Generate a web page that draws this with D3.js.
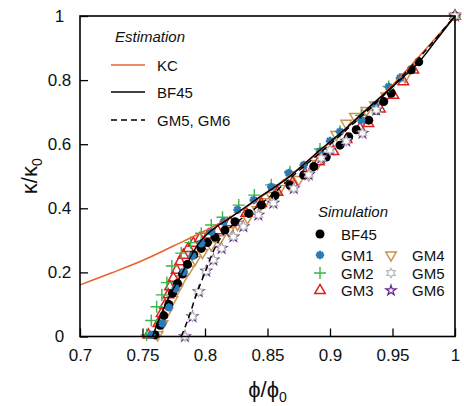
<!DOCTYPE html>
<html>
<head>
<meta charset="utf-8">
<script src="https://cdn.jsdelivr.net/npm/d3@7"></script>
<style>
  html, body { margin: 0; padding: 0; background: #fff; }
  svg { display: block; font-family: "Liberation Sans", Arial, sans-serif; }
</style>
</head>
<body>
<svg id="chart" width="464" height="406"></svg>
<script>
// ---- axis ticks ----
const xTicks = [0.7, 0.75, 0.8, 0.85, 0.9, 0.95, 1];
const xTickLabels = ["0.7", "0.75", "0.8", "0.85", "0.9", "0.95", "1"];
const yTicks = [0, 0.2, 0.4, 0.6, 0.8, 1];
const yTickLabels = ["0", "0.2", "0.4", "0.6", "0.8", "1"];

// ---- estimation curves ----
const phiKC = [0.70, 0.725, 0.75, 0.775, 0.80, 0.82, 0.85, 0.90, 0.95, 1.0];
const kapKC = [0.161, 0.198, 0.237, 0.283, 0.330, 0.372, 0.45, 0.605, 0.785, 1.0];

const phiBF = [0.758, 0.765, 0.772, 0.78, 0.786, 0.794, 0.80, 0.81, 0.82, 0.84, 0.867, 0.89, 0.91, 0.924, 0.95, 0.972, 0.985, 1.0];
const kapBF = [0, 0.07, 0.13, 0.185, 0.23, 0.285, 0.313, 0.345, 0.37, 0.425, 0.497, 0.575, 0.64, 0.69, 0.78, 0.86, 0.925, 1.0];

const phiGM = [0.781, 0.787, 0.793, 0.80, 0.806, 0.812, 0.82, 0.83, 0.85, 0.87, 0.9, 0.95, 1.0];
const kapGM = [0, 0.06, 0.13, 0.2, 0.26, 0.305, 0.34, 0.37, 0.43, 0.5, 0.6, 0.78, 1.0];

// ---- simulation points ----
const phiSimBF45 = [0.760, 0.764, 0.767, 0.771, 0.774, 0.778, 0.782, 0.786, 0.791, 0.797, 0.802, 0.808, 0.816, 0.824, 0.835, 0.845, 0.856, 0.868, 0.879, 0.887, 0.897, 0.908, 0.915, 0.921, 0.931, 0.937, 0.943, 0.949, 0.965, 0.971, 1.0];
const kapSimBF45 = [0.005, 0.035, 0.065, 0.10, 0.135, 0.165, 0.195, 0.225, 0.255, 0.275, 0.293, 0.31, 0.332, 0.358, 0.384, 0.41, 0.44, 0.472, 0.504, 0.53, 0.56, 0.597, 0.623, 0.645, 0.675, 0.705, 0.733, 0.759, 0.832, 0.857, 1.0];

const phiGM1 = [0.757, 0.766, 0.771, 0.7765, 0.783, 0.790, 0.797, 0.805, 0.815, 0.826, 0.839, 0.853, 0.867, 0.879, 0.892, 0.900, 0.908, 0.925, 0.936, 0.947, 0.956, 1.0];
const kapGM1 = [0.005, 0.041, 0.091, 0.150, 0.202, 0.251, 0.291, 0.327, 0.358, 0.395, 0.426, 0.467, 0.510, 0.535, 0.577, 0.61, 0.639, 0.675, 0.722, 0.779, 0.806, 1.0];

const phiGM2 = [0.7533, 0.757, 0.7613, 0.7655, 0.7695, 0.7735, 0.781, 0.7885, 0.797, 0.805, 0.814, 0.827, 0.8395, 0.853, 0.868, 0.892, 0.908, 0.925, 0.947, 1.0];
const kapGM2 = [0.005, 0.05, 0.093, 0.13, 0.168, 0.22, 0.26, 0.293, 0.322, 0.348, 0.372, 0.41, 0.441, 0.473, 0.514, 0.585, 0.64, 0.69, 0.78, 1.0];

const phiGM3 = [0.7547, 0.7627, 0.7653, 0.768, 0.7707, 0.772, 0.7747, 0.7773, 0.78, 0.7827, 0.7867, 0.7907, 0.796, 0.8027, 0.81, 0.82, 0.833, 0.845, 0.858, 0.87, 0.88, 0.891, 0.9027, 0.9133, 0.924, 0.9307, 0.94, 0.9507, 0.9587, 0.9667, 1.0];
const kapGM3 = [0.005, 0.041, 0.072, 0.098, 0.13, 0.155, 0.182, 0.207, 0.233, 0.254, 0.275, 0.291, 0.306, 0.317, 0.33, 0.355, 0.385, 0.415, 0.45, 0.48, 0.509, 0.545, 0.577, 0.615, 0.65, 0.665, 0.71, 0.753, 0.795, 0.832, 1.0];

const phiGM4 = [0.762, 0.766, 0.770, 0.774, 0.778, 0.782, 0.787, 0.792, 0.798, 0.805, 0.812, 0.819, 0.826, 0.834, 0.842, 0.848, 0.853, 0.860, 0.867, 0.875, 0.883, 0.890, 0.897, 0.905, 0.913, 0.920, 0.929, 0.936, 0.945, 0.96, 1.0];
const kapGM4 = [0.005, 0.04, 0.08, 0.115, 0.15, 0.18, 0.21, 0.24, 0.262, 0.285, 0.305, 0.33, 0.35, 0.37, 0.395, 0.42, 0.44, 0.462, 0.478, 0.49, 0.505, 0.54, 0.58, 0.63, 0.665, 0.686, 0.705, 0.722, 0.75, 0.81, 1.0];

const phiGM56 = [0.784, 0.790, 0.795, 0.801, 0.8067, 0.8133, 0.8227, 0.8307, 0.8427, 0.8547, 0.871, 0.883, 0.893, 0.900, 0.913, 0.926, 0.937, 1.0];
const kapGM56 = [0.0, 0.062, 0.14, 0.204, 0.239, 0.275, 0.311, 0.343, 0.379, 0.416, 0.462, 0.505, 0.556, 0.582, 0.61, 0.634, 0.707, 1.0];

// ---- colours ----
const cKC = "#e8622c", cGM1 = "#2a7ab8", cGM2 = "#3cb44a", cGM3 = "#e0201e",
      cGM4 = "#c99353", cGM5 = "#b8b8b8", cGM6 = "#6b2d90";

const svg = d3.select("#chart");
const x = d3.scaleLinear().domain([0.7, 1]).range([80, 455]);
const y = d3.scaleLinear().domain([0, 1]).range([336.5, 16]);

// ---- marker shapes ----
function asteriskPath(r) {
  const p = d3.path();
  for (let i = 0; i < 4; i++) {
    const a = i * Math.PI / 4;
    p.moveTo(-r * Math.cos(a), -r * Math.sin(a));
    p.lineTo(r * Math.cos(a), r * Math.sin(a));
  }
  return p.toString();
}
function hexagramPath(ro) {
  const ri = ro / Math.sqrt(3);
  const pts = [];
  for (let i = 0; i < 12; i++) {
    const a = -Math.PI / 2 + i * Math.PI / 6;
    const r = i % 2 === 0 ? ro : ri;
    pts.push([r * Math.cos(a), r * Math.sin(a)]);
  }
  return "M" + pts.map(p => p.join(",")).join("L") + "Z";
}
const shapes = {
  circle: () => d3.symbol(d3.symbolCircle, 64)(),
  asterisk: () => asteriskPath(4.2),
  plus: () => d3.symbol(d3.symbolPlus, 50)(),
  triUp: () => d3.symbol(d3.symbolTriangle, 48)(),
  triDown: () => d3.symbol(d3.symbolTriangle, 48)(),
  hexagram: () => hexagramPath(4.8),
  star: () => d3.symbol(d3.symbolStar, 32)()
};
const styles = {
  BF45: { shape: "circle", fill: "#000", stroke: "none", sw: 0, rot: 0 },
  GM1: { shape: "asterisk", fill: "none", stroke: cGM1, sw: 2.4, rot: 0 },
  GM2: { shape: "plus", fill: "none", stroke: cGM2, sw: 1.4, rot: 0 },
  GM3: { shape: "triUp", fill: "none", stroke: cGM3, sw: 1.5, rot: 0 },
  GM4: { shape: "triDown", fill: "none", stroke: cGM4, sw: 1.5, rot: 180 },
  GM5: { shape: "hexagram", fill: "#fff", stroke: cGM5, sw: 1.2, rot: 0 },
  GM6: { shape: "star", fill: "#fff", stroke: cGM6, sw: 1.3, rot: 0 }
};

function drawMarkers(name, phis, kaps) {
  const st = styles[name];
  const pts = phis.map((p, i) => ({ p: p, k: kaps[i] }));
  svg.append("g").attr("class", "sim-" + name)
    .selectAll("path").data(pts).join("path")
    .attr("d", shapes[st.shape]())
    .attr("transform", d => `translate(${x(d.p)},${y(d.k)}) rotate(${st.rot})`)
    .attr("fill", st.fill)
    .attr("stroke", st.stroke)
    .attr("stroke-width", st.sw)
    .attr("stroke-linejoin", "miter");
}

// simulation markers
drawMarkers("GM4", phiGM4, kapGM4);
drawMarkers("GM3", phiGM3, kapGM3);
drawMarkers("BF45", phiSimBF45, kapSimBF45);
drawMarkers("GM2", phiGM2, kapGM2);
drawMarkers("GM1", phiGM1, kapGM1);
drawMarkers("GM6", phiGM56, kapGM56);
drawMarkers("GM5", phiGM56, kapGM56);

// estimation curves
const line = d3.line().x(d => x(d[0])).y(d => y(d[1])).curve(d3.curveMonotoneX);
function drawCurve(phis, kaps, color, dash) {
  svg.append("path")
    .datum(phis.map((p, i) => [p, kaps[i]]))
    .attr("d", line)
    .attr("fill", "none")
    .attr("stroke", color)
    .attr("stroke-width", 1.5)
    .attr("stroke-dasharray", dash || null);
}
drawCurve(phiKC, kapKC, cKC);
drawCurve(phiGM, kapGM, "#000", "6,4");
drawCurve(phiBF, kapBF, "#000");

// ---- axes (inward ticks, full frame) ----
const xAxis = d3.axisBottom(x).tickValues(xTicks)
  .tickFormat((d, i) => xTickLabels[i]).tickSizeInner(-8).tickSizeOuter(0).tickPadding(12);
const gx = svg.append("g").attr("transform", `translate(0,${y(0)})`).call(xAxis);

const yAxis = d3.axisLeft(y).tickValues(yTicks)
  .tickFormat((d, i) => yTickLabels[i]).tickSizeInner(-8).tickSizeOuter(0).tickPadding(20);
const gy = svg.append("g").attr("transform", `translate(${x(0.7)},0)`).call(yAxis);

[gx, gy].forEach(g => {
  g.select(".domain").remove();
  g.selectAll("line").attr("stroke", "#000").attr("stroke-width", 1.3);
  g.selectAll("text").attr("font-size", 17).attr("fill", "#111")
    .attr("font-family", "'Liberation Sans', Arial, sans-serif");
});
gy.selectAll("text").attr("text-anchor", "middle").attr("x", -20.5);

svg.append("rect")
  .attr("x", x(0.7)).attr("y", y(1))
  .attr("width", x(1) - x(0.7)).attr("height", y(0) - y(1))
  .attr("fill", "none").attr("stroke", "#000").attr("stroke-width", 1.6);

// axis titles
const yTitle = svg.append("text")
  .attr("transform", `translate(37,${(y(0) + y(1)) / 2}) rotate(-90)`)
  .attr("text-anchor", "middle").attr("font-size", 22).attr("fill", "#111");
yTitle.append("tspan").text("κ/κ");
yTitle.append("tspan").attr("font-size", 14).attr("dy", 5).text("0");

const xTitle = svg.append("text")
  .attr("x", (x(0.7) + x(1)) / 2).attr("y", 397)
  .attr("text-anchor", "middle").attr("font-size", 22).attr("fill", "#111");
xTitle.append("tspan").text("ϕ/ϕ");
xTitle.append("tspan").attr("font-size", 14).attr("dy", 5).text("0");

// ---- legend: estimation ----
const legE = svg.append("g");
legE.append("text").attr("x", 115).attr("y", 42).attr("font-size", 15)
  .attr("font-style", "italic").attr("fill", "#111").text("Estimation");
const estItems = [
  { label: "KC", color: cKC, dash: null, yy: 65 },
  { label: "BF45", color: "#000", dash: null, yy: 92 },
  { label: "GM5, GM6", color: "#000", dash: "6,4", yy: 120 }
];
estItems.forEach(it => {
  legE.append("line").attr("x1", 111).attr("x2", 145).attr("y1", it.yy).attr("y2", it.yy)
    .attr("stroke", it.color).attr("stroke-width", 1.5).attr("stroke-dasharray", it.dash);
  legE.append("text").attr("x", 157).attr("y", it.yy + 5.5).attr("font-size", 15)
    .attr("fill", "#111").text(it.label);
});

// ---- legend: simulation ----
const legS = svg.append("g");
legS.append("text").attr("x", 318).attr("y", 217).attr("font-size", 15)
  .attr("font-style", "italic").attr("fill", "#111").text("Simulation");
const simItems = [
  { name: "BF45", mx: 320, yy: 234 },
  { name: "GM1", mx: 320, yy: 255 },
  { name: "GM2", mx: 320, yy: 273 },
  { name: "GM3", mx: 320, yy: 290.5 },
  { name: "GM4", mx: 391, yy: 255 },
  { name: "GM5", mx: 391, yy: 273 },
  { name: "GM6", mx: 391, yy: 290.5 }
];
simItems.forEach(it => {
  const st = styles[it.name];
  legS.append("path").attr("d", shapes[st.shape]())
    .attr("transform", `translate(${it.mx},${it.yy}) rotate(${st.rot})`)
    .attr("fill", st.fill).attr("stroke", st.stroke).attr("stroke-width", st.sw);
  legS.append("text").attr("x", it.mx + 21).attr("y", it.yy + 5.5).attr("font-size", 15)
    .attr("fill", "#111").text(it.name);
});
</script>
</body>
</html>
